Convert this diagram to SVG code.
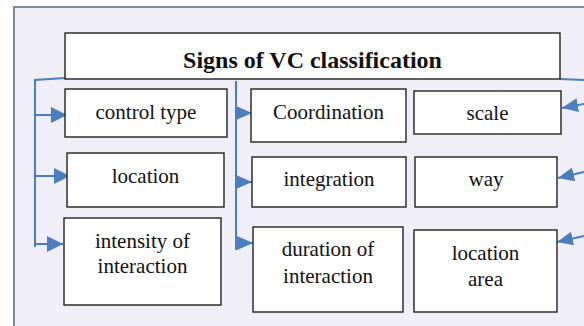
<svg xmlns="http://www.w3.org/2000/svg" width="584" height="326" viewBox="0 0 584 326">
<style>
.bg{fill:#f0eef6}
.frame{fill:none;stroke:#7c8aa6;stroke-width:2}
.box{fill:#ffffff;stroke:#222222;stroke-width:1.4}
text{font-family:'Liberation Serif','Times New Roman',serif}
.t{font-size:21px;fill:#111111;text-anchor:middle}
.title{font-size:24px;font-weight:bold;fill:#111111;text-anchor:middle}
.c{fill:none;stroke:#4a7fbf;stroke-width:2}
</style>
<defs>
<marker id="ah" viewBox="0 0 16 16" refX="16" refY="8" markerWidth="16" markerHeight="16" markerUnits="userSpaceOnUse" orient="auto">
<path d="M0,0 L16,8 L0,16 Z" fill="#4a7fbf"/>
</marker>
<marker id="ahs" viewBox="0 0 16 14" refX="16" refY="7" markerWidth="16" markerHeight="14" markerUnits="userSpaceOnUse" orient="auto">
<path d="M0,0 L16,7 L0,14 Z" fill="#4a7fbf"/>
</marker>
</defs>
<rect class="bg" x="14" y="7" width="570" height="319"/>
<path class="frame" d="M14,326 L14,7 L584,7"/>
<g id="connectors">
<polyline class="c" points="65,78 35,80 35,247"/>
<line class="c" x1="35" y1="115" x2="67" y2="115" marker-end="url(#ah)"/>
<line class="c" x1="35" y1="176" x2="70" y2="176" marker-end="url(#ah)"/>
<line class="c" x1="35" y1="244" x2="63" y2="244" marker-end="url(#ah)"/>
<line class="c" x1="236" y1="81" x2="236" y2="250"/>
<line class="c" x1="236" y1="113" x2="252" y2="113" marker-end="url(#ahs)"/>
<line class="c" x1="236" y1="182" x2="252" y2="182" marker-end="url(#ahs)"/>
<line class="c" x1="236" y1="243" x2="253" y2="243" marker-end="url(#ahs)"/>
<line class="c" x1="560" y1="79" x2="584" y2="80"/>
<line class="c" x1="584" y1="104" x2="562" y2="108" marker-end="url(#ahs)"/>
<line class="c" x1="584" y1="172" x2="558" y2="178" marker-end="url(#ahs)"/>
<line class="c" x1="584" y1="236" x2="557" y2="242" marker-end="url(#ahs)"/>
</g>
<g id="title">
<rect class="box" x="65" y="33" width="495" height="46"/>
<text class="title" x="312.5" y="68">Signs of VC classification</text>
</g>
<g id="control-type">
<rect class="box" x="65" y="89" width="162" height="48"/>
<text class="t" x="146" y="119">control type</text>
</g>
<g id="location">
<rect class="box" x="67" y="153" width="157" height="54"/>
<text class="t" x="145.5" y="183">location</text>
</g>
<g id="intensity">
<rect class="box" x="64" y="218" width="157" height="87"/>
<text class="t" x="142.5" y="248">intensity of</text>
<text class="t" x="142.5" y="273">interaction</text>
</g>
<g id="coordination">
<rect class="box" x="251" y="89" width="155" height="53"/>
<text class="t" x="328.5" y="119">Coordination</text>
</g>
<g id="integration">
<rect class="box" x="252" y="157" width="154" height="50"/>
<text class="t" x="329" y="186">integration</text>
</g>
<g id="duration">
<rect class="box" x="253" y="227" width="150" height="85"/>
<text class="t" x="328" y="256">duration of</text>
<text class="t" x="328" y="283">interaction</text>
</g>
<g id="scale">
<rect class="box" x="414" y="91" width="147" height="43"/>
<text class="t" x="487.5" y="120">scale</text>
</g>
<g id="way">
<rect class="box" x="415" y="157" width="142" height="50"/>
<text class="t" x="486" y="186">way</text>
</g>
<g id="location-area">
<rect class="box" x="414" y="230" width="143" height="82"/>
<text class="t" x="485.5" y="260">location</text>
<text class="t" x="485.5" y="286">area</text>
</g>
</svg>
